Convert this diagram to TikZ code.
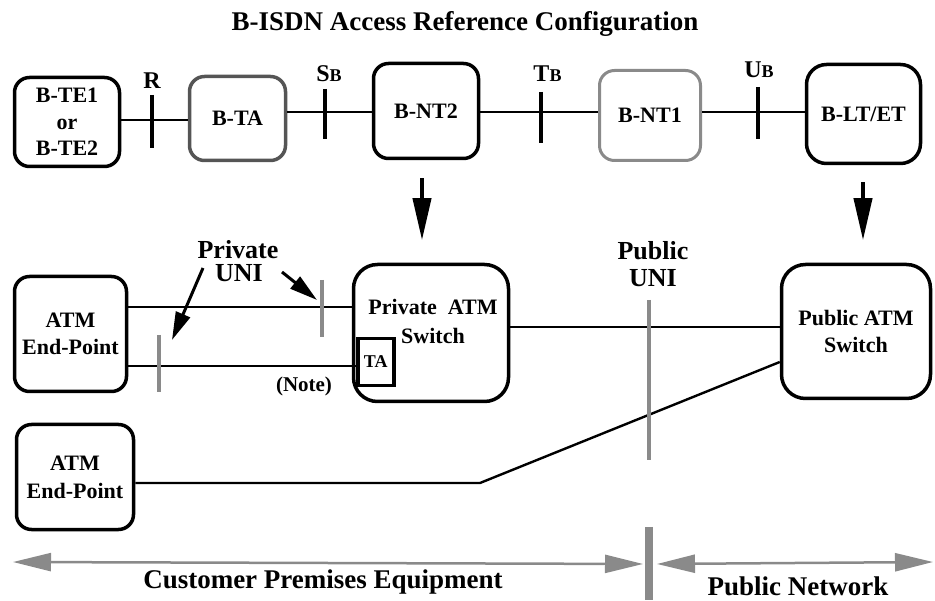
\documentclass[tikz,border=0pt]{standalone}
\usepackage{fontspec}
\setmainfont{Liberation Serif}
\usepackage{tikz}
\usetikzlibrary{arrows.meta}

\definecolor{uniGray}{HTML}{8A8A8A}
\definecolor{taGray}{HTML}{555555}
\newcommand{\bsz}[2]{\fontsize{#1}{#2}\selectfont\bfseries}
\newcommand{\refsub}[1]{{\fontsize{18}{18}\selectfont #1}}

\tikzset{
  box/.style={draw, line width=3.5pt, rounded corners=15pt, align=center, inner sep=0pt, font=\bsz{22}{26.5}},
  bigbox/.style={box, rounded corners=24pt, font=\bsz{22}{27}},
  tabox/.style={draw, line width=3.5pt, inner sep=0pt, minimum width=36pt, minimum height=47pt, font=\bsz{18}{18}},
  link/.style={line width=2pt},
  refpt/.style={line width=3.5pt},
  unitick/.style={uniGray, line width=3.5pt},
  divider/.style={uniGray, line width=8pt},
  downarrow/.style={line width=4pt, -{Triangle[length=42pt,width=18pt]}},
  uniarrow/.style={line width=3pt, -{Triangle[length=28pt,width=15pt]}},
  spanarrow/.style={uniGray, line width=2.5pt, {Triangle[length=38pt,width=18pt]}-{Triangle[length=38pt,width=18pt]}},
  txt/.style={inner sep=0pt, align=center}
}

\begin{document}
\begin{tikzpicture}[x=1pt, y=-1pt]
  \useasboundingbox (0,0) rectangle (935,601);

  \node[txt, anchor=base, font=\bsz{27}{27}] (title) at (465,31) {B-ISDN Access Reference Configuration};

  % B-ISDN chain
  \node[box, minimum width=105pt, minimum height=89pt] (bte) at (67,122) {B-TE1\\or\\B-TE2};
  \node[box, draw=taGray, minimum width=96pt, minimum height=84pt] (bta) at (237.5,118.5) {B-TA};
  \node[box, minimum width=105pt, minimum height=95pt] (bnt2) at (426,111) {B-NT2};
  \node[box, draw=uniGray, line width=3pt, minimum width=101pt, minimum height=90pt] (bnt1) at (650,115.5) {B-NT1};
  \node[box, rounded corners=20pt, minimum width=114pt, minimum height=99pt] (blt) at (863.5,114) {B-LT/ET};

  \coordinate (R) at (152,120);
  \coordinate (SB) at (325,112);
  \coordinate (TB) at (541,112);
  \coordinate (UB) at (758,112);

  \draw[link] (bte.east |- R) -- (bta.west |- R);
  \draw[link] (bta.east |- SB) -- (bnt2.west |- SB);
  \draw[link] (bnt2.east |- TB) -- (bnt1.west |- TB);
  \draw[link] (bnt1.east |- UB) -- (blt.west |- UB);

  \draw[refpt] (R) ++(0,-25) -- ++(0,53);
  \draw[refpt] (SB) ++(0,-23) -- ++(0,50);
  \draw[refpt] (TB) ++(0,-20) -- ++(0,51);
  \draw[refpt] (UB) ++(0,-25) -- ++(0,52);

  \node[txt, anchor=base, font=\bsz{24}{24}] (rlbl) at (152,89) {R};
  \node[txt, anchor=base, font=\bsz{24}{24}] (sblbl) at (329,82) {S\refsub{B}};
  \node[txt, anchor=base, font=\bsz{24}{24}] (tblbl) at (547.5,82) {T\refsub{B}};
  \node[txt, anchor=base, font=\bsz{24}{24}] (ublbl) at (759,78) {U\refsub{B}};

  \draw[downarrow] ([xshift=-4pt, yshift=-18pt]bnt2.south) -- ++(0,62);
  \draw[downarrow] ([xshift=-0.5pt, yshift=-17pt]blt.south) -- ++(0,58);

  % ATM configuration
  \node[box, minimum width=112pt, minimum height=115pt] (ep1) at (70.5,334) {ATM\\End-Point};
  \node[bigbox, minimum width=155pt, minimum height=137pt] (psw) at (431,333) {};
  \node[txt, font=\bsz{22}{29}] (pswtext) at (433,321) {Private\ \ ATM\\Switch};
  \node[tabox, anchor=west] (ta) at (356,362) {TA};
  \node[bigbox, minimum width=149pt, minimum height=134pt] (pub) at (856,331.5) {Public ATM\\Switch};
  \node[box, minimum width=117pt, minimum height=105pt, font=\bsz{22}{28}] (ep2) at (75,477) {ATM\\End-Point};

  \coordinate (pu1) at (322,307);
  \coordinate (pu2) at (159,366);
  \coordinate (pubuni) at (649,327);
  \coordinate (bend) at (480,483);

  \draw[link] (ep1.east |- pu1) -- (psw.west |- pu1);
  \draw[link] (ep1.east |- pu2) -- (ta.west |- pu2);
  \draw[link] (psw.east |- pubuni) -- (pub.west |- pubuni);
  \draw[link, line width=2.4pt] (ep2.east |- bend) -- (bend) -- ([yshift=-30.5pt]pub.west);

  \draw[unitick] (pu1) ++(0,-27) -- ++(0,57);
  \draw[unitick] (pu2) ++(0,-31) -- ++(0,57);
  \draw[unitick, line width=4pt] (pubuni) ++(0,-27) -- ++(0,160);

  \node[txt, anchor=base, font=\bsz{26}{26}] (privlbl) at (238,259) {Private};
  \node[txt, anchor=base, font=\bsz{26}{26}] (privuni) at (239,282) {UNI};
  \node[txt, font=\bsz{26}{27}] (pubunilbl) at (653,264.5) {Public\\UNI};
  \node[txt, anchor=base, font=\bsz{21}{21}] (note) at (304,392) {(Note)};

  \coordinate (pa1) at (203,268);
  \coordinate (pa2) at (282,272);
  \draw[uniarrow] (pa1) -- ([xshift=13pt, yshift=26pt]pu2);
  \draw[uniarrow] (pa2) -- ([xshift=-5pt, yshift=7pt]pu1);

  % premises and network
  \coordinate (divide) at (649,563);
  \coordinate (cpeend) at (13,562);
  \coordinate (pubend) at (933,562);
  \draw[spanarrow] (cpeend) -- ([xshift=-6pt, yshift=-1pt]divide);
  \draw[spanarrow] ([xshift=8pt, yshift=-1pt]divide) -- (pubend);
  \draw[divider] (divide) ++(0,-36) -- ++(0,73);

  \node[txt, anchor=base, font=\bsz{27}{27}] (cpe) at (323,588) {Customer Premises Equipment};
  \node[txt, anchor=base, font=\bsz{27}{27}] (pubnet) at (798,595) {Public Network};
\end{tikzpicture}
\end{document}
